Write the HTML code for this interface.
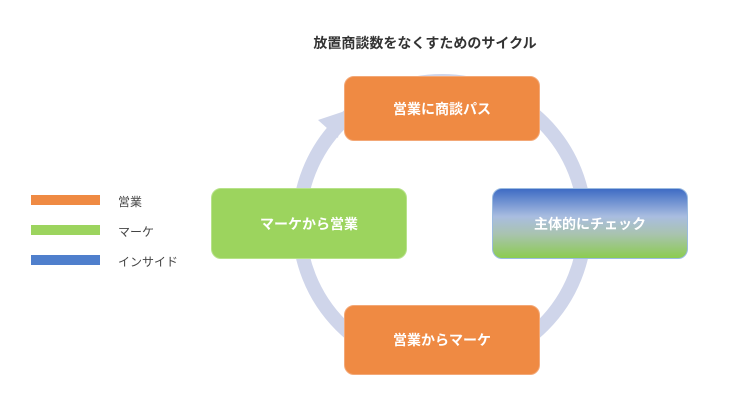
<!DOCTYPE html>
<html><head><meta charset="utf-8"><style>
body{margin:0;width:740px;height:416px;background:#fff;position:relative;overflow:hidden;font-family:"Liberation Sans","Noto Sans CJK JP",sans-serif}
.t{position:absolute;left:0;top:33px;width:740px;text-align:center;font-size:14px;font-weight:bold;color:#333;padding-left:110px;box-sizing:border-box}
.b{position:absolute;width:196px;height:66px;border-radius:10px;color:#fff;font-weight:bold;font-size:14px;display:flex;align-items:center;justify-content:center;box-sizing:border-box}
.o{background:#ef8a43;border:1px solid #f3a877}
.g{background:#9cd45e;border:1px solid #b7e28a}
.bl{background:linear-gradient(#3e6cc4 0%,#a9bde0 40%,#a9c3b0 65%,#8ccc50 100%);border:1px solid #9bbbe0}
.lg{position:absolute;left:31px;width:69px;height:10px}
.lt{position:absolute;left:118px;font-size:12px;color:#444}
</style></head><body>
<svg width="740" height="416" style="position:absolute;left:0;top:0">
<circle cx="442" cy="224" r="143" fill="none" stroke="#cfd5ea" stroke-width="14"/>
<polygon points="318,120 342,112 338,138" fill="#cfd5ea"/>
</svg>
<div class="t">放置商談数をなくすためのサイクル</div>
<div class="b o" style="left:344px;top:76px;height:65px">営業に商談パス</div>
<div class="b g" style="left:211px;top:188px;height:71px">マーケから営業</div>
<div class="b bl" style="left:492px;top:188px;height:71px">主体的にチェック</div>
<div class="b o" style="left:344px;top:305px;height:70px">営業からマーケ</div>
<div class="lg" style="top:195px;background:#ef8a43"></div>
<div class="lg" style="top:225px;background:#9cd45e"></div>
<div class="lg" style="top:255px;background:#4f7fcc"></div>
<div class="lt" style="top:193px">営業</div>
<div class="lt" style="top:223px">マーケ</div>
<div class="lt" style="top:253px">インサイド</div>
</body></html>
